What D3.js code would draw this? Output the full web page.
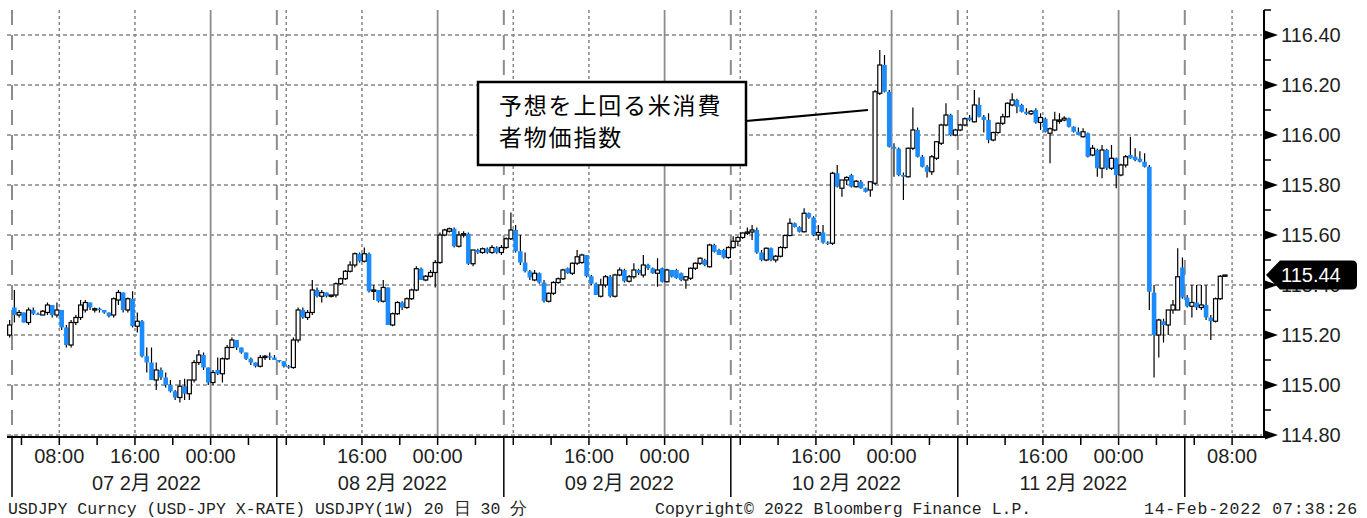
<!DOCTYPE html>
<html><head><meta charset="utf-8">
<script src="https://cdn.jsdelivr.net/npm/d3@7"></script>
<style>
html,body{margin:0;padding:0;background:#fff;}
svg{display:block;}
</style></head><body>
<svg id="chart" width="1367" height="518"></svg>
<script>
// ---------------- DATA (USDJPY 30-minute candles) ----------------
const opens = [
115.20,115.31,115.28,115.29,115.25,115.30,115.285,115.28,115.29,115.32,
115.28,115.30,115.23,115.16,115.25,115.27,115.30,115.33,115.30,115.305,
115.30,115.29,115.28,115.34,115.37,115.30,115.345,115.235,115.255,115.115,
115.09,115.02,115.06,115.03,115.00,114.975,114.95,114.995,114.965,115.02,
115.09,115.12,115.07,115.01,115.06,115.045,115.105,115.15,115.18,115.15,
115.13,115.105,115.09,115.075,115.11,115.115,115.11,115.10,115.095,115.075,
115.07,115.18,115.30,115.27,115.29,115.38,115.355,115.37,115.355,115.36,
115.405,115.425,115.455,115.48,115.525,115.495,115.525,115.375,115.38,115.335,
115.39,115.24,115.285,115.33,115.31,115.345,115.38,115.465,115.42,115.435,
115.45,115.49,115.60,115.615,115.625,115.555,115.60,115.605,115.485,115.54,
115.53,115.545,115.53,115.55,115.53,115.55,115.585,115.62,115.535,115.49,
115.455,115.42,115.447,115.41,115.335,115.367,115.41,115.425,115.467,115.447,
115.487,115.49,115.52,115.435,115.405,115.355,115.40,115.433,115.355,115.44,
115.46,115.415,115.433,115.46,115.44,115.48,115.467,115.447,115.467,115.413,
115.46,115.46,115.447,115.42,115.427,115.467,115.487,115.50,115.473,115.56,
115.54,115.54,115.51,115.55,115.575,115.59,115.608,115.612,115.62,115.53,
115.50,115.547,115.50,115.515,115.55,115.598,115.647,115.632,115.613,115.687,
115.67,115.60,115.61,115.57,115.567,115.847,115.787,115.82,115.84,115.793,
115.813,115.787,115.78,115.807,116.167,116.28,116.173,115.953,115.945,115.84,
115.833,115.947,116.02,115.913,115.873,115.853,115.907,115.967,116.04,116.08,
116.00,116.02,116.04,116.07,116.053,116.12,116.073,116.06,115.98,116.01,
116.047,116.073,116.12,116.14,116.12,116.093,116.085,116.10,116.05,116.065,
116.007,116.02,116.055,116.06,116.067,116.033,116.013,115.993,116.007,115.92,
115.94,115.867,115.94,115.867,115.907,115.84,115.88,115.92,115.913,115.905,
115.893,115.873,115.37,115.20,115.255,115.24,115.30,115.30,115.47,115.35,
115.315,115.33,115.31,115.32,115.27,115.255,115.345,115.435
];
const highs = [
115.26,115.38,115.30,115.29,115.31,115.31,115.29,115.30,115.33,115.32,
115.33,115.30,115.24,115.26,115.28,115.34,115.34,115.33,115.31,115.31,
115.30,115.29,115.35,115.38,115.37,115.35,115.375,115.29,115.26,115.15,
115.15,115.09,115.07,115.05,115.02,114.98,115.02,115.025,115.02,115.10,
115.14,115.13,115.07,115.06,115.11,115.11,115.16,115.19,115.18,115.15,
115.13,115.11,115.09,115.12,115.12,115.13,115.12,115.10,115.095,115.08,
115.19,115.31,115.31,115.30,115.42,115.39,115.38,115.37,115.36,115.41,
115.43,115.46,115.495,115.53,115.53,115.55,115.53,115.40,115.38,115.42,
115.39,115.29,115.335,115.335,115.35,115.385,115.475,115.47,115.44,115.46,
115.50,115.61,115.625,115.63,115.63,115.615,115.615,115.61,115.54,115.545,
115.55,115.55,115.56,115.555,115.56,115.59,115.69,115.64,115.60,115.53,
115.46,115.46,115.45,115.42,115.37,115.415,115.43,115.465,115.47,115.49,
115.54,115.525,115.52,115.44,115.41,115.425,115.44,115.44,115.445,115.47,
115.465,115.44,115.487,115.465,115.52,115.485,115.47,115.507,115.47,115.465,
115.46,115.465,115.45,115.435,115.47,115.49,115.51,115.505,115.565,115.565,
115.545,115.545,115.555,115.595,115.595,115.61,115.63,115.64,115.63,115.54,
115.55,115.55,115.52,115.555,115.60,115.667,115.65,115.635,115.707,115.69,
115.675,115.64,115.64,115.575,115.853,115.88,115.82,115.835,115.845,115.82,
115.82,115.79,115.815,116.18,116.34,116.32,116.18,115.967,115.95,115.85,
115.95,116.11,116.03,115.92,115.88,115.92,115.975,116.045,116.127,116.085,
116.025,116.045,116.07,116.08,116.18,116.15,116.08,116.087,116.013,116.05,
116.085,116.13,116.167,116.145,116.125,116.107,116.10,116.107,116.087,116.07,
116.03,116.093,116.087,116.075,116.07,116.035,116.03,116.027,116.01,115.96,
115.945,115.96,115.945,115.96,115.91,115.885,115.92,115.993,115.947,115.935,
115.927,115.88,115.40,115.265,115.265,115.30,115.34,115.547,115.51,115.36,
115.40,115.40,115.40,115.40,115.28,115.35,115.44,115.44
];
const lows = [
115.19,115.25,115.27,115.25,115.24,115.28,115.28,115.28,115.28,115.27,
115.27,115.22,115.15,115.15,115.24,115.26,115.29,115.30,115.29,115.29,
115.285,115.27,115.27,115.32,115.29,115.29,115.23,115.21,115.11,115.05,
115.02,114.98,115.02,114.99,114.97,114.94,114.93,114.94,114.94,115.01,
115.08,115.06,115.00,115.00,115.04,115.01,115.10,115.15,115.14,115.125,
115.10,115.08,115.07,115.07,115.10,115.10,115.10,115.09,115.07,115.065,
115.065,115.17,115.265,115.26,115.28,115.35,115.33,115.35,115.35,115.35,
115.40,115.42,115.45,115.47,115.49,115.49,115.37,115.34,115.33,115.33,
115.24,115.235,115.28,115.30,115.305,115.34,115.375,115.42,115.415,115.43,
115.39,115.485,115.595,115.61,115.55,115.55,115.59,115.48,115.475,115.525,
115.525,115.525,115.525,115.525,115.52,115.545,115.58,115.53,115.48,115.45,
115.42,115.415,115.405,115.33,115.33,115.36,115.405,115.42,115.445,115.44,
115.48,115.485,115.43,115.40,115.36,115.35,115.39,115.35,115.35,115.435,
115.41,115.41,115.425,115.44,115.43,115.46,115.445,115.393,115.41,115.41,
115.43,115.425,115.415,115.385,115.42,115.46,115.48,115.475,115.47,115.53,
115.52,115.505,115.505,115.545,115.555,115.585,115.60,115.58,115.525,115.495,
115.495,115.495,115.49,115.51,115.545,115.595,115.63,115.61,115.61,115.665,
115.595,115.58,115.565,115.56,115.56,115.79,115.753,115.80,115.79,115.79,
115.785,115.77,115.753,115.80,116.16,116.17,115.95,115.833,115.835,115.74,
115.83,115.94,115.91,115.87,115.83,115.84,115.90,115.96,116.035,115.995,
115.995,116.015,116.035,116.055,116.05,116.07,116.01,115.967,115.975,116.005,
116.04,116.07,116.115,116.087,116.09,116.08,116.08,116.045,116.02,116.01,
115.887,116.015,116.045,116.055,116.03,116.01,116.00,115.99,115.91,115.915,
115.833,115.827,115.86,115.86,115.787,115.835,115.87,115.905,115.895,115.89,
115.87,115.30,115.03,115.11,115.17,115.20,115.285,115.30,115.345,115.31,
115.27,115.30,115.30,115.26,115.18,115.25,115.34,115.435
];
const closes = [
115.24,115.28,115.29,115.25,115.30,115.285,115.28,115.295,115.32,115.28,
115.30,115.23,115.16,115.25,115.27,115.32,115.33,115.31,115.305,115.30,
115.29,115.275,115.345,115.37,115.30,115.345,115.235,115.255,115.115,115.09,
115.02,115.06,115.03,115.00,114.975,114.95,114.995,114.965,115.02,115.09,
115.12,115.07,115.01,115.05,115.045,115.105,115.15,115.18,115.15,115.13,
115.105,115.09,115.075,115.11,115.115,115.11,115.10,115.095,115.075,115.07,
115.18,115.30,115.27,115.29,115.38,115.355,115.37,115.355,115.36,115.405,
115.425,115.455,115.48,115.525,115.495,115.525,115.375,115.38,115.335,115.39,
115.24,115.285,115.33,115.31,115.345,115.38,115.465,115.42,115.435,115.45,
115.49,115.60,115.62,115.625,115.555,115.60,115.605,115.485,115.54,115.53,
115.545,115.53,115.55,115.53,115.55,115.585,115.62,115.535,115.49,115.455,
115.43,115.447,115.41,115.335,115.367,115.41,115.425,115.46,115.447,115.487,
115.513,115.52,115.435,115.405,115.36,115.40,115.433,115.355,115.44,115.46,
115.415,115.433,115.46,115.447,115.48,115.467,115.447,115.46,115.413,115.46,
115.433,115.427,115.42,115.433,115.467,115.487,115.507,115.48,115.56,115.533,
115.52,115.51,115.55,115.575,115.59,115.608,115.612,115.62,115.53,115.50,
115.547,115.50,115.515,115.55,115.598,115.647,115.632,115.613,115.687,115.67,
115.60,115.61,115.57,115.567,115.847,115.793,115.82,115.83,115.793,115.815,
115.787,115.773,115.813,116.173,116.28,116.173,115.953,115.945,115.84,115.833,
115.947,116.02,115.913,115.873,115.853,115.913,115.973,116.04,116.08,116.00,
116.02,116.04,116.065,116.06,116.12,116.073,116.06,115.98,116.01,116.047,
116.073,116.127,116.14,116.113,116.093,116.085,116.095,116.05,116.07,116.013,
116.025,116.06,116.06,116.067,116.033,116.013,116.00,116.013,115.913,115.947,
115.867,115.94,115.867,115.907,115.84,115.88,115.913,115.907,115.90,115.893,
115.873,115.373,115.20,115.26,115.24,115.30,115.32,115.433,115.35,115.315,
115.33,115.31,115.32,115.27,115.255,115.345,115.435,115.44
];
// trading sessions (compressed time axis, hours after 07 Feb 03:00; weekends removed)
const sessionStarts = ["2022-02-05 06:30", "2022-02-07 03:00", "2022-02-14 03:00"];
const sessionBars   = [1, 248, 9];
// time-axis labels
const timeTickDates  = ["2022-02-07 08:00","2022-02-07 16:00","2022-02-08 00:00","2022-02-08 16:00","2022-02-09 00:00",
                        "2022-02-09 16:00","2022-02-10 00:00","2022-02-10 16:00","2022-02-11 00:00","2022-02-11 16:00",
                        "2022-02-12 00:00","2022-02-14 08:00"];
const timeTickLabels = ["08:00","16:00","00:00","16:00","00:00","16:00","00:00","16:00","00:00","16:00","00:00","08:00"];
const dayLabels      = ["07 2月 2022","08 2月 2022","09 2月 2022","10 2月 2022","11 2月 2022"];
const daySeparators  = ["2022-02-07 03:00","2022-02-08 07:00","2022-02-09 07:00","2022-02-10 07:00","2022-02-11 07:00","2022-02-12 07:00"];
const midnightLines  = ["2022-02-08 00:00","2022-02-09 00:00","2022-02-10 00:00","2022-02-11 00:00","2022-02-12 00:00"];
const dottedLines    = ["2022-02-07 08:00","2022-02-07 16:00","2022-02-08 08:00","2022-02-08 16:00","2022-02-09 08:00","2022-02-09 16:00",
                        "2022-02-10 08:00","2022-02-10 16:00","2022-02-11 08:00","2022-02-11 16:00","2022-02-14 08:00"];
const yTickValues    = [114.80,115.00,115.20,115.40,115.60,115.80,116.00,116.20,116.40];
const yMinorValues   = [114.90,115.10,115.30,115.50,115.70,115.90,116.10,116.30,116.50];
const annotationLines = ["予想を上回る米消費","者物価指数"];
const annotationBar  = 183;
const annotationPrice = 116.10;
const footerLeft  = "USDJPY Curncy (USD-JPY X-RATE) USDJPY(1W) 20 日 30 分";
const footerMid   = "Copyright© 2022 Bloomberg Finance L.P.";
const footerRight = "14-Feb-2022 07:38:26";

// ---------------- helpers ----------------
const parse = d3.timeParse("%Y-%m-%d %H:%M");
const week1Start = parse("2022-02-07 03:00"), week2Start = parse("2022-02-14 03:00");
function toU(s){
  const d = parse(s);
  if (d >= week2Start) return 124 + (d - week2Start)/3.6e6;
  return (d - week1Start)/3.6e6;
}
const bars = [];
sessionStarts.forEach((s,k)=>{
  const u0 = (k===0) ? -0.5 : toU(s);
  for (let i=0;i<sessionBars[k];i++){
    const j = bars.length;
    bars.push({u: u0 + 0.5*i + 0.25, o: opens[j], h: highs[j], l: lows[j], c: closes[j]});
  }
});

// ---------------- scales ----------------
const x = d3.scaleLinear().domain([0,124]).range([12,1184.8]);
const y = d3.scaleLinear().domain([114.80,116.40]).range([435,35]);
const plotL = 7, plotR = 1263, plotT = 10, plotB = 437;

const svg = d3.select("#chart");
svg.append("rect").attr("width",1367).attr("height",518).attr("fill","#fff");
const GRID = "#858585";

// horizontal dotted grid
svg.append("g").selectAll("line").data(yTickValues).join("line")
  .attr("x1",plotL).attr("x2",plotR-1)
  .attr("y1",d=>y(d)).attr("y2",d=>y(d))
  .attr("stroke",GRID).attr("stroke-width",1.4).attr("stroke-dasharray","4,3");

// vertical dotted lines (08:00 / 16:00)
svg.append("g").selectAll("line").data(dottedLines).join("line")
  .attr("x1",d=>x(toU(d))).attr("x2",d=>x(toU(d)))
  .attr("y1",plotT).attr("y2",plotB)
  .attr("stroke",GRID).attr("stroke-width",1.5).attr("stroke-dasharray","3,3");

// vertical solid lines (00:00)
svg.append("g").selectAll("line").data(midnightLines).join("line")
  .attr("x1",d=>x(toU(d))).attr("x2",d=>x(toU(d)))
  .attr("y1",plotT).attr("y2",plotB)
  .attr("stroke","#8c8c8c").attr("stroke-width",1.8);

// vertical long-dash lines (day separators)
svg.append("g").selectAll("line").data(daySeparators).join("line")
  .attr("x1",d=>x(toU(d))).attr("x2",d=>x(toU(d)))
  .attr("y1",plotT).attr("y2",plotB)
  .attr("stroke","#8c8c8c").attr("stroke-width",2).attr("stroke-dasharray","15,10");

// ---------------- candles ----------------
const BW = 4, BLUE = "#1a8cff";
const cg = svg.append("g");
bars.forEach(b=>{
  const cx = x(b.u);
  const up = b.c >= b.o;
  cg.append("line").attr("x1",cx).attr("x2",cx).attr("y1",y(b.h)).attr("y2",y(b.l))
    .attr("stroke","#000").attr("stroke-width",1.2);
  const top = y(Math.max(b.o,b.c)), bot = y(Math.min(b.o,b.c));
  const hgt = Math.max(1.3, bot-top);
  if (up){
    cg.append("rect").attr("x",cx-BW/2).attr("y",top).attr("width",BW).attr("height",hgt)
      .attr("fill","#fff").attr("stroke","#000").attr("stroke-width",1.2);
  } else {
    cg.append("rect").attr("x",cx-BW/2-0.3).attr("y",top).attr("width",BW+0.6).attr("height",hgt)
      .attr("fill",BLUE);
  }
});

// ---------------- annotation ----------------
const ann = svg.append("g");
const bx0 = 478, by0 = 82, bx1 = 746, by1 = 165;
ann.append("line").attr("x1",bx1).attr("y1",121)
  .attr("x2",x(bars[annotationBar].u)-7).attr("y2",y(annotationPrice))
  .attr("stroke","#000").attr("stroke-width",2.2);
ann.append("rect").attr("x",bx0).attr("y",by0).attr("width",bx1-bx0).attr("height",by1-by0)
  .attr("fill","#fff").attr("stroke","#000").attr("stroke-width",2.5);
ann.selectAll("text").data(annotationLines).join("text")
  .attr("x",499).attr("y",(d,i)=>114+i*32)
  .attr("font-family","'Noto Sans CJK JP','Noto Sans',sans-serif").attr("font-size",23)
  .attr("letter-spacing",1.8).attr("fill","#000").text(d=>d);

// ---------------- y axis ----------------
const ya = svg.append("g");
ya.append("line").attr("x1",1264).attr("x2",1264).attr("y1",plotT).attr("y2",plotB+1)
  .attr("stroke","#000").attr("stroke-width",2);
ya.selectAll("path.tri").data(yTickValues).join("path").attr("class","tri")
  .attr("d",d=>`M1265,${y(d)-4.5}L1278,${y(d)}L1265,${y(d)+4.5}Z`).attr("fill","#000");
ya.selectAll("line.mn").data(yMinorValues).join("line").attr("class","mn")
  .attr("x1",1264).attr("x2",1271).attr("y1",d=>y(d)).attr("y2",d=>y(d))
  .attr("stroke","#000").attr("stroke-width",1.5);
ya.selectAll("text").data(yTickValues).join("text")
  .attr("x",1281).attr("y",d=>y(d)+7)
  .attr("font-family","'Liberation Sans',Arial,sans-serif").attr("font-size",20)
  .attr("fill","#1f1f1f").text(d=>d.toFixed(2));

// last price tag
const last = closes[closes.length-1];
const ly = y(last);
ya.append("path")
  .attr("d",`M1266,${ly}L1280,${ly-14.5}L1352,${ly-14.5}Q1357,${ly-14.5} 1357,${ly-9.5}L1357,${ly+9.5}Q1357,${ly+14.5} 1352,${ly+14.5}L1280,${ly+14.5}Z`)
  .attr("fill","#000");
ya.append("text").attr("x",1281).attr("y",ly+7)
  .attr("font-family","'Liberation Sans',Arial,sans-serif").attr("font-size",20)
  .attr("fill","#fff").text(last.toFixed(2));

// ---------------- x axis ----------------
const xa = svg.append("g");
xa.append("line").attr("x1",plotL).attr("x2",1265).attr("y1",plotB).attr("y2",plotB)
  .attr("stroke","#000").attr("stroke-width",2);
const minorTicks = [];
for (let h=1; h<=121; h+=4) minorTicks.push(h);   // every 4 hours from 04:00 07 Feb
minorTicks.push(125,129);
xa.selectAll("line.tk").data(minorTicks).join("line").attr("class","tk")
  .attr("x1",d=>x(d)).attr("x2",d=>x(d)).attr("y1",plotB).attr("y2",plotB+8)
  .attr("stroke","#000").attr("stroke-width",1.5);
xa.selectAll("line.sep").data(daySeparators).join("line").attr("class","sep")
  .attr("x1",d=>x(toU(d))).attr("x2",d=>x(toU(d))).attr("y1",plotB).attr("y2",497)
  .attr("stroke","#000").attr("stroke-width",1.5);
xa.selectAll("text.tl").data(timeTickDates).join("text").attr("class","tl")
  .attr("x",d=>x(toU(d))).attr("y",463).attr("text-anchor","middle")
  .attr("font-family","'Liberation Sans',Arial,sans-serif").attr("font-size",20)
  .attr("fill","#1f1f1f").text((d,i)=>timeTickLabels[i]);
xa.selectAll("text.dl").data(dayLabels).join("text").attr("class","dl")
  .attr("x",(d,i)=>(x(toU(daySeparators[i]))+x(toU(daySeparators[i+1])))/2+2)
  .attr("y",490).attr("text-anchor","middle")
  .attr("font-family","'Liberation Sans','Noto Sans CJK JP',Arial,sans-serif").attr("font-size",20)
  .attr("fill","#1f1f1f").text(d=>d);

// ---------------- footer ----------------
const ff = "'Liberation Mono','DejaVu Sans Mono',monospace";
svg.append("text").attr("x",8).attr("y",514).attr("font-family",ff).attr("font-size",16.5)
  .attr("fill","#222").text(footerLeft);
svg.append("text").attr("x",655).attr("y",514).attr("font-family",ff).attr("font-size",16.5)
  .attr("fill","#222").text(footerMid);
svg.append("text").attr("x",1358).attr("y",514).attr("text-anchor","end").attr("font-family",ff).attr("font-size",16.5)
  .attr("letter-spacing",0.8).attr("fill","#222").text(footerRight);
</script>
</body></html>
